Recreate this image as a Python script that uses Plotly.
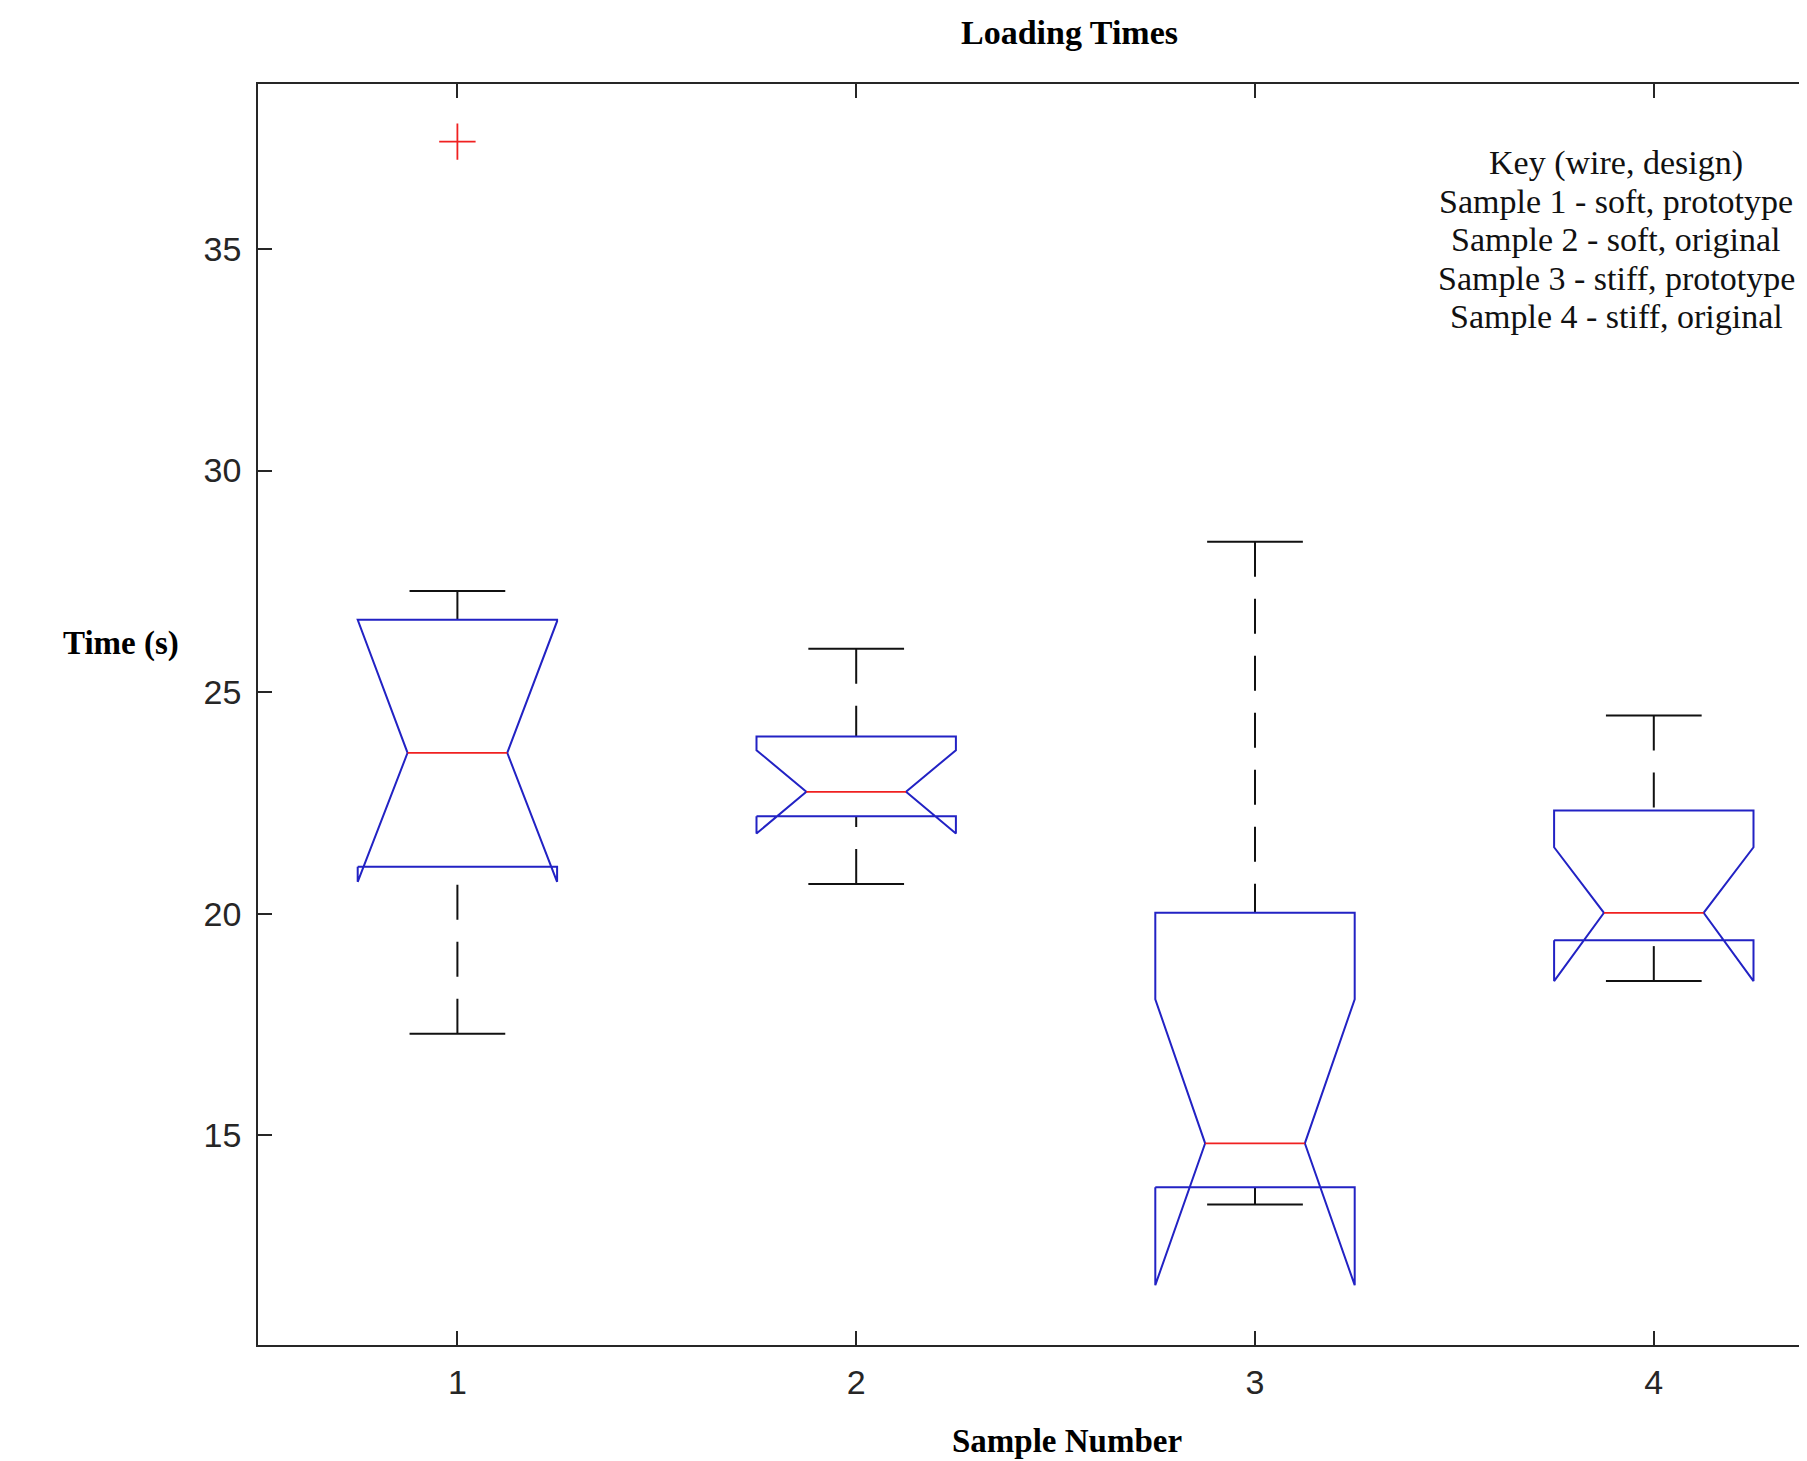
import plotly.graph_objects as go

# ---- data ----
samples = [1, 2, 3, 4]
whisker_lo = [17.29, 20.67, 13.44, 18.48]
q1 = [21.06, 22.20, 13.83, 19.40]
notch_lo = [20.72, 21.81, 11.62, 18.48]
medians = [23.63, 22.75, 14.82, 20.02]
notch_hi = [26.60, 23.69, 18.07, 21.50]
q3 = [26.63, 24.00, 20.02, 22.33]
whisker_hi = [27.28, 25.98, 28.39, 24.47]
outlier_x = [1]
outlier_y = [37.42]

xtick_vals = [1, 2, 3, 4]
xtick_text = ["1", "2", "3", "4"]
ytick_vals = [15, 20, 25, 30, 35]
ytick_text = ["15", "20", "25", "30", "35"]

title_text = "Loading Times"
xlabel_text = "Sample Number"
ylabel_text = "Time (s)"
key_lines = [
    "Key (wire, design)",
    "Sample 1 - soft, prototype",
    "Sample 2 - soft, original",
    "Sample 3 - stiff, prototype",
    "Sample 4 - stiff, original",
]

# ---- layout geometry (page body has an 8px margin) ----
OFF = 8
W, H = 1807, 1461
ML, MR, MT = 258 - OFF, 0, 84 - OFF
MB = H - (1345 - OFF)
PW = W - ML - MR
PH = H - MT - MB


def px_x(px):
    return (px - OFF - ML) / PW


def px_y(py):
    return (H - MB - (py - OFF)) / PH


BOX_HW = 0.25
NOTCH_HW = 0.125
CAP_HW = 0.12
BLUE = "#2222c4"
RED = "#f02020"
DARK = "#111111"

fig = go.Figure()

for i, x in enumerate(samples):
    l, r = x - BOX_HW, x + BOX_HW
    nl, nr = x - NOTCH_HW, x + NOTCH_HW
    # whiskers (drawn from whisker end toward the box)
    fig.add_trace(go.Scatter(x=[x, x], y=[whisker_hi[i], q3[i]], mode="lines",
                             line=dict(color=DARK, width=2, dash="35px,22px"),
                             showlegend=False, hoverinfo="skip"))
    fig.add_trace(go.Scatter(x=[x, x], y=[whisker_lo[i], q1[i]], mode="lines",
                             line=dict(color=DARK, width=2, dash="35px,22px"),
                             showlegend=False, hoverinfo="skip"))
    # caps
    fig.add_trace(go.Scatter(x=[x - CAP_HW, x + CAP_HW], y=[whisker_hi[i], whisker_hi[i]],
                             mode="lines", line=dict(color=DARK, width=2),
                             showlegend=False, hoverinfo="skip"))
    fig.add_trace(go.Scatter(x=[x - CAP_HW, x + CAP_HW], y=[whisker_lo[i], whisker_lo[i]],
                             mode="lines", line=dict(color=DARK, width=2),
                             showlegend=False, hoverinfo="skip"))
    # notched box outline
    bx = [l, l, nl, l, l, r, r, nr, r, r, l]
    by = [q1[i], notch_lo[i], medians[i], notch_hi[i], q3[i], q3[i],
          notch_hi[i], medians[i], notch_lo[i], q1[i], q1[i]]
    fig.add_trace(go.Scatter(x=bx, y=by, mode="lines",
                             line=dict(color=BLUE, width=2),
                             showlegend=False, hoverinfo="skip"))
    # median
    fig.add_trace(go.Scatter(x=[nl, nr], y=[medians[i], medians[i]], mode="lines",
                             line=dict(color=RED, width=1.8),
                             showlegend=False, hoverinfo="skip"))

# outliers
fig.add_trace(go.Scatter(x=outlier_x, y=outlier_y, mode="markers",
                         marker=dict(symbol="cross-thin", size=26,
                                     line=dict(color=RED, width=1.8), color=RED),
                         showlegend=False, hoverinfo="skip"))

x_max = 0.5 + PW / 398.8

fig.update_layout(
    width=W, height=H,
    margin=dict(l=ML, r=MR, t=MT, b=MB),
    paper_bgcolor="white", plot_bgcolor="white",
    showlegend=False,
    xaxis=dict(range=[0.5, x_max], tickvals=xtick_vals, ticktext=xtick_text,
               showline=True, mirror="ticks", linecolor="#262626", linewidth=1.5,
               ticks="inside", ticklen=14, tickwidth=1.5, tickcolor="#262626",
               showgrid=False, zeroline=False, ticklabelstandoff=6,
               tickfont=dict(family="Liberation Sans, Arial", size=34, color="#262626")),
    yaxis=dict(range=[10.27, 38.72], tickvals=ytick_vals, ticktext=ytick_text,
               showline=True, mirror=False, linecolor="#262626", linewidth=1.5,
               ticks="inside", ticklen=14, tickwidth=1.5, tickcolor="#262626",
               showgrid=False, zeroline=False, ticklabelstandoff=8,
               tickfont=dict(family="Liberation Sans, Arial", size=34, color="#262626")),
)

serif = "Liberation Serif, Times New Roman, serif"
ann = [
    dict(text="<b>%s</b>" % title_text, x=px_x(1069), y=px_y(33),
         font=dict(family=serif, size=34, color="#000000")),
    dict(text="<b>%s</b>" % ylabel_text, x=px_x(121), y=px_y(643),
         font=dict(family=serif, size=33, color="#000000")),
    dict(text="<b>%s</b>" % xlabel_text, x=px_x(1067), y=px_y(1441),
         font=dict(family=serif, size=33, color="#000000")),
]
key_y = [162.5, 201.6, 239.7, 278.8, 316.9]
for t, yy in zip(key_lines, key_y):
    ann.append(dict(text=t, x=px_x(1616), y=px_y(yy),
                    font=dict(family=serif, size=34, color="#111111")))
for a in ann:
    a.update(xref="paper", yref="paper", xanchor="center", yanchor="middle",
             showarrow=False)
fig.update_layout(annotations=ann)

fig.write_html("out.html")
